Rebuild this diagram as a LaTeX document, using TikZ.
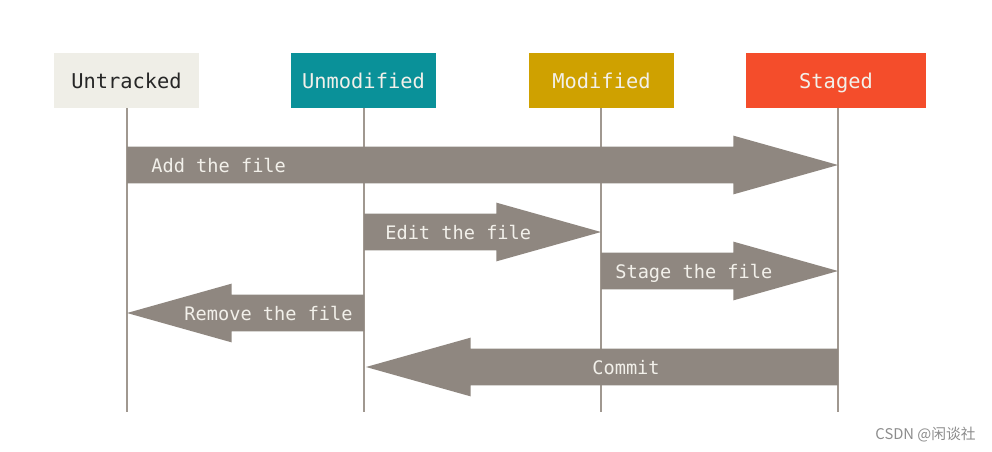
\documentclass[tikz,border=0pt]{standalone}
\usepackage{fontspec}
\setmonofont{DejaVu Sans Mono}
\newfontfamily\cjk{Noto Sans CJK SC}
\usetikzlibrary{calc}

\definecolor{untrackedbg}{HTML}{EFEEE7}
\definecolor{unmodbg}{HTML}{0A9199}
\definecolor{modbg}{HTML}{CFA100}
\definecolor{stagedbg}{HTML}{F44D2B}
\definecolor{flowgray}{HTML}{8F8780}
\definecolor{lifegray}{HTML}{A09890}
\definecolor{paletext}{HTML}{F2F0EA}

\tikzset{
  statebox/.style={minimum height=1.1cm, inner sep=0pt,
    text height=8.8pt, text depth=0pt,
    font=\ttfamily\fontsize{11.6}{14}\selectfont, text=paletext},
  lifeline/.style={lifegray, line width=0.8pt},
  flowlabel/.style={inner sep=0pt, text=paletext,
    text height=8.1pt, text depth=0pt,
    font=\ttfamily\fontsize{10.6}{13}\selectfont},
}

% fat arrow from one lifeline point to another
\newcommand{\fatarrow}[2]{%
  \fill[flowgray] let \p1=(#1), \p2=(#2), \n1={\x2-sign(\x2-\x1)*59.5} in
    (\x1,{\y1-10.5pt}) -- (\n1,{\y1-10.5pt}) -- (\n1,{\y1-16.7pt}) -- (\x2,\y2)
    -- (\n1,{\y1+16.7pt}) -- (\n1,{\y1+10.5pt}) -- (\x1,{\y1+10.5pt}) -- cycle;}

\begin{document}
\begin{tikzpicture}[x=0.02cm, y=-0.02cm]
    \useasboundingbox (0,0) rectangle (992,451);

    % States
    \node[statebox, fill=untrackedbg, text=black!85, minimum width=2.9cm] (untracked) at (126.5,80.5) {Untracked};
    \node[statebox, fill=unmodbg, minimum width=2.9cm] (unmodified) at (363.5,80.5) {Unmodified};
    \node[statebox, fill=modbg, minimum width=2.9cm] (modified) at (601.5,80.5) {Modified};
    \node[statebox, fill=stagedbg, minimum width=3.6cm] (staged) at (836,80.5) {Staged};

    % Lifelines
    \coordinate (untrackedend) at (127,412);
    \coordinate (unmodifiedend) at (364,412);
    \coordinate (modifiedend) at (601,412);
    \coordinate (stagedend) at (838,412);
    \draw[lifeline] (untracked.south -| untrackedend) -- (untrackedend);
    \draw[lifeline] (unmodified.south -| unmodifiedend) -- (unmodifiedend);
    \draw[lifeline] (modified.south -| modifiedend) -- (modifiedend);
    \draw[lifeline] (staged.south -| stagedend) -- (stagedend);

    % Ends of the transitions
    \coordinate (addfrom) at (127,165);   \coordinate (addto) at (838,165);
    \coordinate (editfrom) at (364,232);  \coordinate (editto) at (601,232);
    \coordinate (stagefrom) at (601,271); \coordinate (stageto) at (838,271);
    \coordinate (removefrom) at (364,313); \coordinate (removeto) at (127,313);
    \coordinate (commitfrom) at (838,367); \coordinate (committo) at (366,367);

    % Transitions
    \fatarrow{addfrom}{addto}
    \fatarrow{editfrom}{editto}
    \fatarrow{stagefrom}{stageto}
    \fatarrow{removefrom}{removeto}
    \fatarrow{commitfrom}{committo}

    % Labels
    \node[flowlabel, anchor=west] (addlabel) at (151,165) {Add the file};
    \node[flowlabel, anchor=west] (editlabel) at (385,232) {Edit the file};
    \node[flowlabel, anchor=west] (stagelabel) at (615,271) {Stage the file};
    \node[flowlabel, anchor=east] (removelabel) at (353,313) {Remove the file};
    \node[flowlabel] (commitlabel) at (626,367) {Commit};

    % Watermark
    \node[anchor=east, inner sep=0pt, text=black!45, font=\cjk\fontsize{8.4}{10}\selectfont] (mark) at (976,435) {CSDN @闲谈社};
\end{tikzpicture}
\end{document}
